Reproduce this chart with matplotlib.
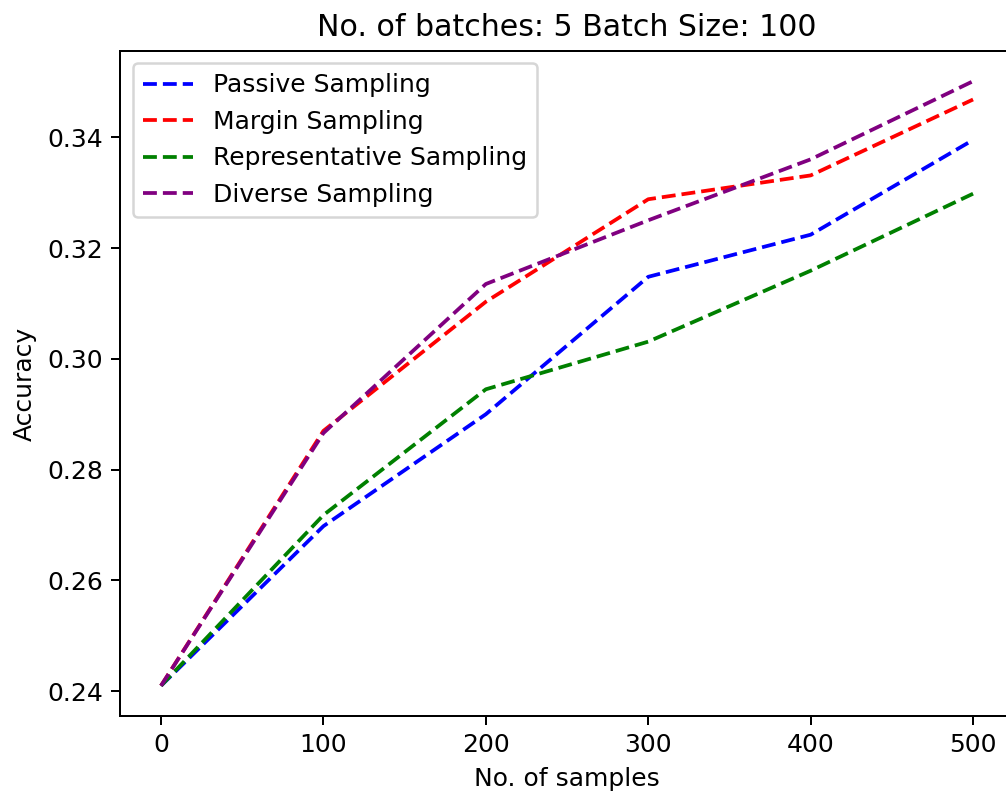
import matplotlib
matplotlib.use("Agg")
import matplotlib.pyplot as plt

DPI = 180

# data
samples = [0, 100, 200, 300, 400, 500]
passive = [0.241, 0.2698, 0.2900, 0.3148, 0.3224, 0.3395]
margin = [0.241, 0.2870, 0.3103, 0.3288, 0.3331, 0.3468]
representative = [0.241, 0.2718, 0.2945, 0.3031, 0.3159, 0.3298]
diverse = [0.241, 0.2866, 0.3135, 0.3250, 0.3360, 0.3501]

series = [
    ("Passive Sampling", passive, "blue"),
    ("Margin Sampling", margin, "red"),
    ("Representative Sampling", representative, "green"),
    ("Diverse Sampling", diverse, "purple"),
]

fig = plt.figure(figsize=(1006 / DPI, 798 / DPI), dpi=DPI)
# reference is cropped on the right, so the axes run slightly past the edge
ax = fig.add_axes([0.1197, 0.1028, 0.8879, 0.8333])

for label, vals, color in series:
    ax.plot(samples, vals, "--", color=color, label=label)

ax.set_title("No. of batches: 5 Batch Size: 100")
ax.set_xlabel("No. of samples")
ax.set_ylabel("Accuracy")
ax.legend(loc="upper left")

fig.savefig("out.png", dpi=DPI)
